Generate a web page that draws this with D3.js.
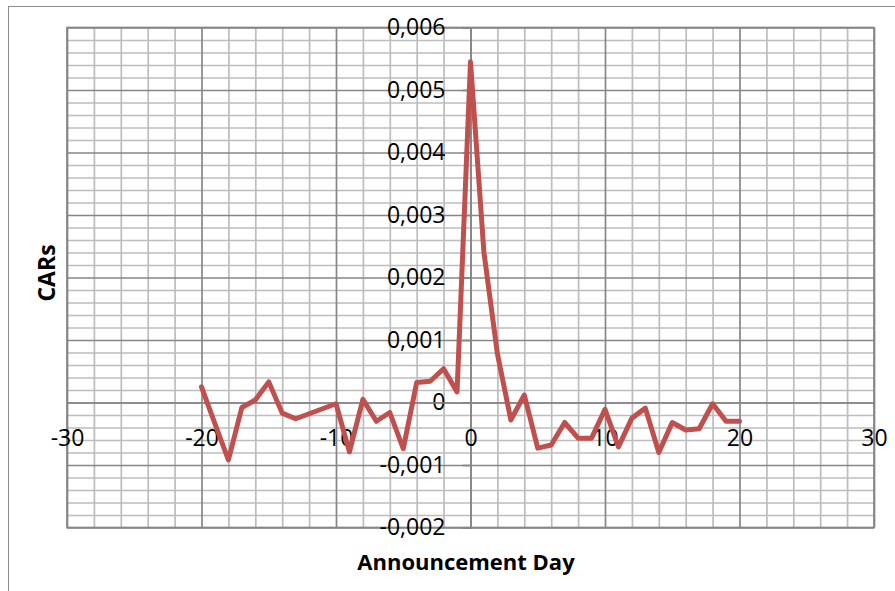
<!DOCTYPE html>
<html>
<head>
<meta charset="utf-8">
<style>
body { margin: 0; background: #fff; }
text { font-family: "Open Sans", "Noto Sans", sans-serif; fill: #000; }
</style>
<script src="https://d3js.org/d3.v7.min.js"></script>
</head>
<body>
<div id="chart"></div>
<script>
// event window days and the CARs
var days = [-20,-19,-18,-17,-16,-15,-14,-13,-12,-11,-10,-9,-8,-7,-6,-5,-4,-3,-2,-1,
             0,1,2,3,4,5,6,7,8,9,10,11,12,13,14,15,16,17,18,19,20];
var cars = [0.00025,-0.00034,-0.00092,-0.00008,0.00004,0.00033,-0.00017,-0.00026,-0.00018,-0.0001,
            -0.00002,-0.00079,0.00005,-0.0003,-0.00016,-0.00074,0.00032,0.00034,0.00054,0.00017,
            0.00545,0.0024,0.00078,-0.00028,0.00012,-0.00073,-0.00068,-0.00032,-0.00057,-0.00057,
            -0.00011,-0.00071,-0.00025,-0.00009,-0.0008,-0.00032,-0.00044,-0.00042,-0.00002,-0.0003,-0.0003];

var xMajor = [-30,-20,-10,0,10,20,30];
var xMinor = [-28,-26,-24,-22,-18,-16,-14,-12,-8,-6,-4,-2,2,4,6,8,12,14,16,18,22,24,26,28];
var yMajor = [-0.002,-0.001,0,0.001,0.002,0.003,0.004,0.005,0.006];
var yMinor = [];
yMajor.slice(0, -1).forEach(function(v) {
  [0.0002,0.0004,0.0006,0.0008].forEach(function(s) { yMinor.push(+(v + s).toFixed(4)); });
});

var W = 895, H = 591;
var plot = {left: 67, top: 27.5, right: 874, bottom: 527.5};

var svg = d3.select("#chart").append("svg")
  .attr("width", W).attr("height", H);

// outer chart frame (runs past the window on right and bottom)
svg.append("rect")
  .attr("x", 8.5).attr("y", 6.5)
  .attr("width", 1000).attr("height", 1000)
  .attr("fill", "#fff").attr("stroke", "#8c8c8c").attr("stroke-width", 1);

var x = d3.scaleLinear().domain([-30, 30]).range([plot.left, plot.right]);
var y = d3.scaleLinear().domain([-0.002, 0.006]).range([plot.bottom, plot.top]);

var minorCol = "#bdbdbd", majorCol = "#868686";

function grid(axis, tx, ty, col) {
  var g = svg.append("g").attr("transform", "translate(" + tx + "," + ty + ")").call(axis);
  g.select(".domain").remove();
  g.selectAll("line").attr("stroke", col).attr("stroke-width", 1.7);
  g.selectAll("text").remove();
  return g;
}

// minor then major gridlines
grid(d3.axisBottom(x).tickValues(xMinor).tickSize(-(plot.bottom - plot.top)), 0, plot.bottom, minorCol);
grid(d3.axisLeft(y).tickValues(yMinor).tickSize(-(plot.right - plot.left)), plot.left, 0, minorCol);
grid(d3.axisBottom(x).tickValues(xMajor).tickSize(-(plot.bottom - plot.top)), 0, plot.bottom, majorCol);
grid(d3.axisLeft(y).tickValues(yMajor).tickSize(-(plot.right - plot.left)), plot.left, 0, majorCol);

svg.append("rect")
  .attr("x", plot.left).attr("y", plot.top)
  .attr("width", plot.right - plot.left).attr("height", plot.bottom - plot.top)
  .attr("fill", "none").attr("stroke", majorCol).attr("stroke-width", 1.7);

var loc = d3.formatLocale({decimal: ",", thousands: ".", grouping: [3], currency: ["", ""], minus: "-"});
var fmtY = function(d) { return d === 0 ? "0" : loc.format(".3f")(d); };

// y axis through x = 0
var yAx = svg.append("g")
  .attr("transform", "translate(" + x(0) + ",0)")
  .call(d3.axisLeft(y).tickValues(yMajor).tickSize(8).tickPadding(17).tickFormat(fmtY));
yAx.select(".domain").attr("stroke", majorCol).attr("stroke-width", 1.7);
yAx.selectAll("line").attr("stroke", majorCol).attr("stroke-width", 1.7);
yAx.selectAll("text").style("font-size", "23px").attr("fill", "#000");

// x axis through y = 0
var xAx = svg.append("g")
  .attr("transform", "translate(0," + y(0) + ")")
  .call(d3.axisBottom(x).tickValues(xMajor).tickSize(0).tickPadding(27).tickFormat(function(d) { return loc.format("d")(d); }));
xAx.select(".domain").attr("stroke", majorCol).attr("stroke-width", 1.7);
xAx.selectAll("text").style("font-size", "23px").attr("fill", "#000");

var line = d3.line()
  .x(function(d, i) { return x(days[i]); })
  .y(function(d) { return y(d); });

svg.append("path")
  .datum(cars)
  .attr("d", line)
  .attr("fill", "none")
  .attr("stroke", "#c0504d")
  .attr("stroke-width", 5)
  .attr("stroke-linejoin", "round")
  .attr("stroke-linecap", "round");

svg.append("text")
  .attr("x", 466).attr("y", 570)
  .attr("text-anchor", "middle")
  .style("font-size", "22px").style("font-weight", "bold")
  .text("Announcement Day");

svg.append("text")
  .attr("transform", "translate(55,273) rotate(-90)")
  .attr("text-anchor", "middle")
  .style("font-size", "23px").style("font-weight", "bold")
  .text("CARs");
</script>
</body>
</html>
